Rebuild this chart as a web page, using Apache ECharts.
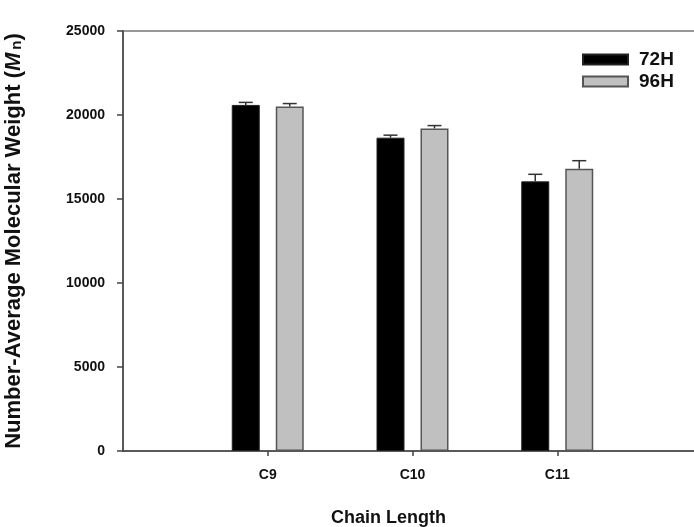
<!DOCTYPE html>
<html>
<head>
<meta charset="utf-8">
<script src="https://cdn.jsdelivr.net/npm/echarts@6/dist/echarts.min.js"></script>
<style>html,body{margin:0;padding:0;background:#fff;}#c{width:694px;height:527px;}</style>
</head>
<body>
<div id="c"></div>
<script>
// ---- data ----
const categories = ['C9', 'C10', 'C11'];
const seriesNames = ['72H', '96H'];
const values72H = [20600, 18650, 16050];
const values96H = [20500, 19200, 16800];
const errors72H = [150, 150, 420];
const errors96H = [180, 170, 480];
const yTicks = [0, 5000, 10000, 15000, 20000, 25000];

// padded category axis so that C9..C11 sit at 1..3 of a 0..4 range
const axisCats = [''].concat(categories, ['']);
const pad = arr => [null].concat(arr, [null]);

const BAR_W = 28, BAR_GAP = 16;
const FONT = 'Liberation Sans, Arial, sans-serif';

function errSeries(vals, errs, dir) {
  const data = vals.map((v, i) => [i + 1, v, errs[i]]);
  return {
    type: 'custom',
    silent: true,
    z: 5,
    data: data,
    renderItem: function (params, api) {
      const x = api.value(0), v = api.value(1), e = api.value(2);
      const p0 = api.coord([x, v]);
      const p1 = api.coord([x, v + e]);
      const off = dir * (BAR_W + BAR_GAP) / 2;
      const cx = p0[0] + off;
      const cap = 7;
      return {
        type: 'group',
        children: [
          { type: 'line', shape: { x1: cx, y1: p0[1], x2: cx, y2: p1[1] }, style: { stroke: '#333', lineWidth: 1.5 } },
          { type: 'line', shape: { x1: cx - cap, y1: p1[1], x2: cx + cap, y2: p1[1] }, style: { stroke: '#333', lineWidth: 1.5 } }
        ]
      };
    }
  };
}

const chart = echarts.init(document.getElementById('c'), null, { renderer: 'canvas' });
chart.setOption({
  animation: false,
  backgroundColor: '#fff',
  textStyle: { fontFamily: FONT },
  grid: { left: 123, width: 579, top: 31, height: 420, show: true, borderColor: '#777', borderWidth: 1.5, containLabel: false, outerBoundsMode: 'none' },
  legend: {
    orient: 'vertical',
    left: 582, top: 50, padding: 0,
    itemWidth: 45, itemHeight: 10, itemGap: 3,
    icon: 'rect',
    data: seriesNames,
    textStyle: { fontFamily: FONT, fontWeight: 'bold', fontSize: 19, color: '#111', padding: [0, 0, 0, 6] }
  },
  xAxis: {
    type: 'category',
    data: axisCats,
    boundaryGap: false,
    axisLine: { lineStyle: { color: '#444', width: 1.5 } },
    axisTick: { show: true, length: 5, interval: (i) => i >= 1 && i <= categories.length, lineStyle: { color: '#444', width: 1.5 } },
    axisLabel: { interval: 0, margin: 17, fontFamily: FONT, fontWeight: 'bold', fontSize: 14, color: '#111' },
    name: 'Chain Length',
    nameLocation: 'middle',
    nameGap: 58,
    nameTextStyle: { fontFamily: FONT, fontWeight: 'bold', fontSize: 18, color: '#111', padding: [0, 48, 0, 0] }
  },
  yAxis: {
    type: 'value',
    min: yTicks[0], max: yTicks[yTicks.length - 1], interval: yTicks[1] - yTicks[0],
    splitLine: { show: false },
    axisLine: { show: true, lineStyle: { color: '#444', width: 1.5 } },
    axisTick: { show: true, inside: false, length: 6, lineStyle: { color: '#444', width: 1.5 } },
    axisLabel: { margin: 18, fontFamily: FONT, fontWeight: 'bold', fontSize: 14, color: '#111', formatter: v => String(v) },
    name: 'Number-Average Molecular Weight ({i|M}{s|n})',
    nameLocation: 'middle',
    nameGap: 98,
    nameTextStyle: {
      fontFamily: FONT, fontWeight: 'bold', fontSize: 22, color: '#111',
      rich: {
        i: { fontFamily: FONT, fontWeight: 'bold', fontStyle: 'italic', fontSize: 22, color: '#111' },
        s: { fontFamily: FONT, fontWeight: 'bold', fontSize: 15, color: '#111', padding: [5, 0, 0, 3] }
      }
    }
  },
  series: [
    {
      name: seriesNames[0], type: 'bar', data: pad(values72H),
      barWidth: BAR_W, barGap: (BAR_GAP / BAR_W * 100) + '%',
      itemStyle: { color: '#000', borderColor: '#222', borderWidth: 1 }
    },
    {
      name: seriesNames[1], type: 'bar', data: pad(values96H),
      barWidth: BAR_W,
      itemStyle: { color: '#c0c0c0', borderColor: '#555', borderWidth: 1.5 }
    },
    errSeries(values72H, errors72H, -1),
    errSeries(values96H, errors96H, 1)
  ]
});
</script>
</body>
</html>
